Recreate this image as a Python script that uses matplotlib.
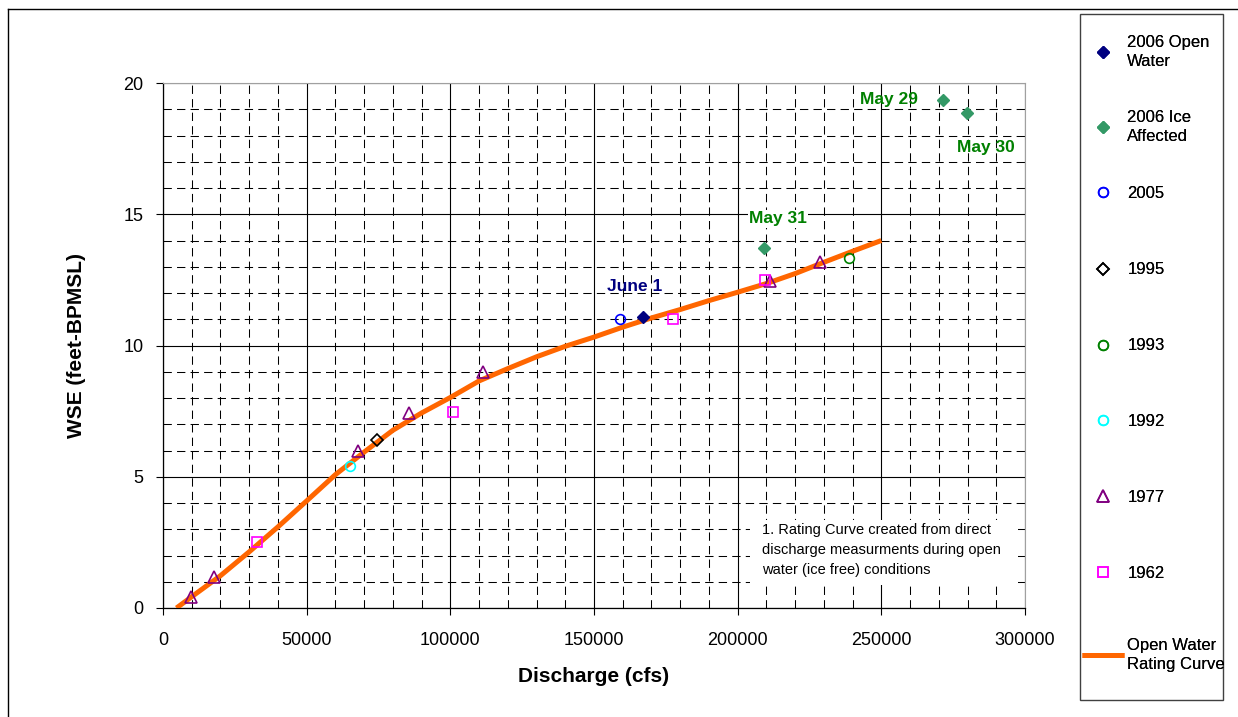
import matplotlib
matplotlib.use("Agg")
from matplotlib import pyplot as plt
from matplotlib.patches import Rectangle
from matplotlib.lines import Line2D

plt.rcParams["font.family"] = ["Liberation Sans", "DejaVu Sans"]

# measured points (discharge cfs, WSE ft)
open2006_q = [167000]
open2006_wse = [11.1]
ice2006_q = [209000, 271500, 279800]
ice2006_wse = [13.7, 19.35, 18.85]
y2005_q = [159000]
y2005_wse = [11.0]
y1995_q = [74600]
y1995_wse = [6.4]
y1993_q = [238800]
y1993_wse = [13.33]
y1992_q = [65000]
y1992_wse = [5.42]
y1977_q = [9900, 17700, 67700, 85700, 111300, 211200, 228700]
y1977_wse = [0.42, 1.2, 6.0, 7.42, 9.0, 12.45, 13.2]
y1962_q = [32600, 101000, 177500, 209600]
y1962_wse = [2.5, 7.48, 11.0, 12.5]

# rating curve
curve_q = [4700, 10000, 20000, 30000, 40000, 50000, 60000, 70000, 80000, 90000,
           100000, 110000, 120000, 130000, 140000, 150000, 160000, 170000, 180000,
           190000, 200000, 210000, 220000, 230000, 240000, 250000]
curve_wse = [0.0, 0.43, 1.23, 2.14, 3.09, 4.08, 5.08, 5.94, 6.77, 7.43,
             8.02, 8.65, 9.12, 9.57, 9.97, 10.32, 10.7, 11.05, 11.37,
             11.71, 12.03, 12.36, 12.74, 13.17, 13.59, 14.0]

fig = plt.figure(figsize=(12.38, 7.17), dpi=100)
ax = fig.add_axes([163 / 1238, 1 - 608 / 717, 862 / 1238, 525 / 717])

ax.set_xlim(0, 300000)
ax.set_ylim(0, 20)
ax.set_xticks(range(0, 300001, 50000))
ax.set_yticks(range(0, 21, 5))
ax.set_xticks(range(0, 300001, 10000), minor=True)
ax.set_yticks(range(0, 21, 1), minor=True)
ax.grid(which="major", color="black", linewidth=0.8)
ax.grid(which="minor", color="black", linewidth=0.75, linestyle=(0, (8, 5)))
ax.set_axisbelow(True)
ax.tick_params(which="major", direction="out", length=5, width=0.8, labelsize=13)
ax.tick_params(which="minor", length=0)
ax.tick_params(axis="x", pad=12)
ax.tick_params(axis="y", pad=9)
for s in ["top", "right"]:
    ax.spines[s].set_color("#a0a0a0")
for s in ["left", "bottom"]:
    ax.spines[s].set_linewidth(0.9)

# white box behind the note
ax.add_patch(Rectangle((0.681, 0.044), 0.311, 0.124, transform=ax.transAxes,
                       facecolor="white", edgecolor="none", zorder=1))

ax.plot(curve_q, curve_wse, color="#ff6600", lw=3.6, solid_capstyle="butt",
        zorder=3, label="Open Water\nRating Curve")
ax.plot(open2006_q, open2006_wse, "D", ms=6.5, color="#000080", zorder=4,
        label="2006 Open\nWater")
ax.plot(ice2006_q, ice2006_wse, "D", ms=6.5, color="#339966", zorder=4,
        label="2006 Ice\nAffected")
ax.plot(y2005_q, y2005_wse, "o", ms=7, mfc="none", mec="#0000ff", mew=1.2,
        zorder=4, label="2005")
ax.plot(y1995_q, y1995_wse, "D", ms=6, mfc="none", mec="black", mew=1.2,
        zorder=4, label="1995")
ax.plot(y1993_q, y1993_wse, "o", ms=7, mfc="none", mec="#008000", mew=1.2,
        zorder=4, label="1993")
ax.plot(y1992_q, y1992_wse, "o", ms=7, mfc="none", mec="#00ffff", mew=1.2,
        zorder=4, label="1992")
ax.plot(y1977_q, y1977_wse, "^", ms=8, mfc="none", mec="#800080", mew=1.2,
        zorder=4, label="1977")
ax.plot(y1962_q, y1962_wse, "s", ms=7, mfc="none", mec="#ff00ff", mew=1.2,
        zorder=4, label="1962")

bold = dict(fontsize=12.5, fontweight="bold", ha="center", va="center")
ax.text(164200, 12.24, "June 1", color="#000080", **bold)
ax.text(214000, 14.83, "May 31", color="#008000",
        bbox=dict(facecolor="white", edgecolor="none", pad=1), **bold)
ax.text(252600, 19.39, "May 29", color="#008000", **bold)
ax.text(286400, 17.53, "May 30", color="#008000", **bold)

ax.text(208500, 2.2, "1. Rating Curve created from direct\n"
        "discharge measurments during open\nwater (ice free) conditions",
        fontsize=10.5, ha="left", va="center", linespacing=1.55, zorder=5)

ax.set_xlabel("Discharge (cfs)", fontsize=15, fontweight="bold")
ax.set_ylabel("WSE (feet-BPMSL)", fontsize=15, fontweight="bold")
ax.xaxis.set_label_coords(0.5, -0.131)
ax.xaxis.label.set_va("center")
ax.yaxis.set_label_coords((76 - 163) / 862, 0.5)
ax.yaxis.label.set_va("center")

# outer chart border (top and left)
fig.add_artist(Line2D([8 / 1238, 8 / 1238], [0, 1 - 9 / 717], color="black", lw=1))
fig.add_artist(Line2D([8 / 1238, 1], [1 - 9 / 717, 1 - 9 / 717], color="black", lw=1))

# legend box, one entry per row at fixed spacing
fig.add_artist(Rectangle((1080 / 1238, 1 - 700 / 717), 143 / 1238, 686 / 717,
                         transform=fig.transFigure, facecolor="white",
                         edgecolor="#404040", lw=1))
handles, labels = ax.get_legend_handles_labels()
order = [1, 2, 3, 4, 5, 6, 7, 8, 0]
row_y = [52, 127, 193, 270, 346, 421, 497, 573, 655]
for i, yy in zip(order, row_y):
    leg = fig.legend([handles[i]], [labels[i]], loc="center left",
                     bbox_to_anchor=(1082 / 1238, 1 - yy / 717),
                     frameon=False, fontsize=12, handlelength=2.5,
                     handletextpad=0.22, borderpad=0, borderaxespad=0)
    for t in leg.get_texts():
        t.set_linespacing(1.35)
    fig.add_artist(leg)

fig.savefig("out.png", dpi=100)
